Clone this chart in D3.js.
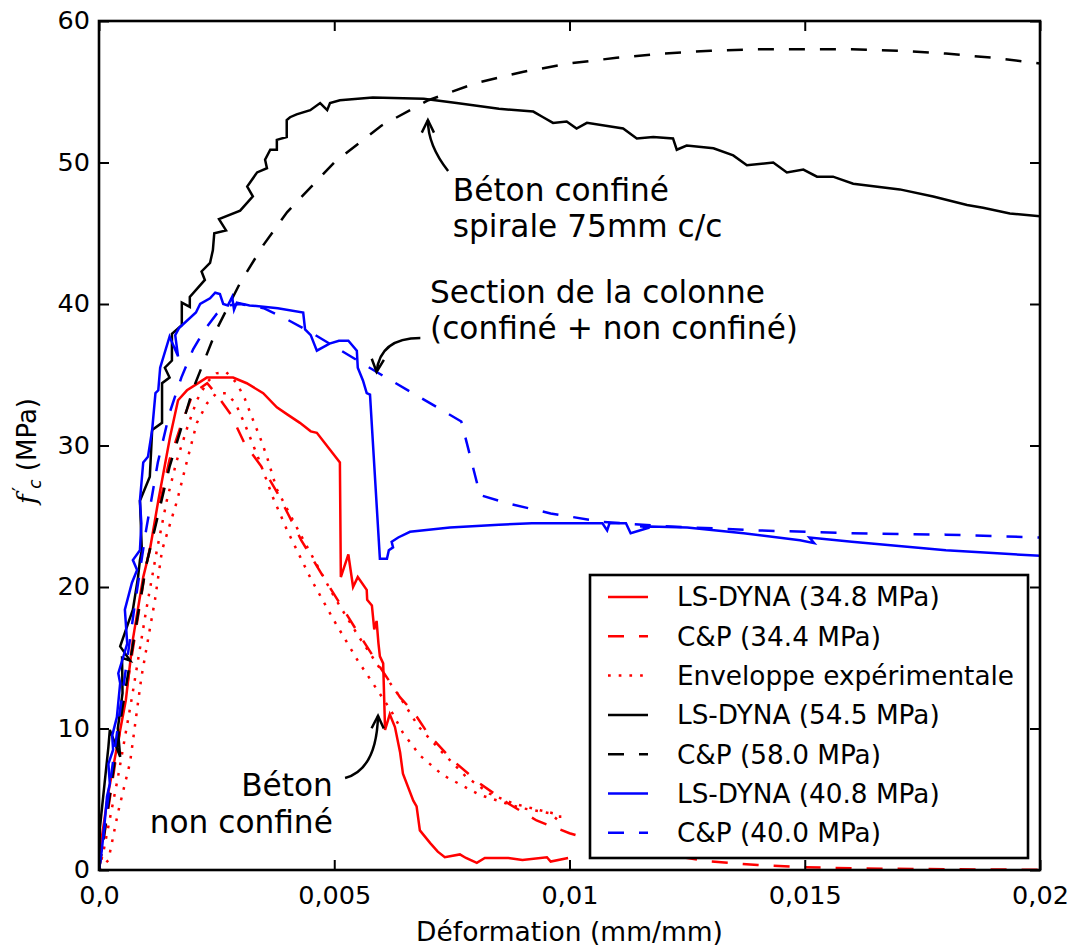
<!DOCTYPE html>
<html><head><meta charset="utf-8">
<script src="https://cdn.jsdelivr.net/npm/d3@7"></script>
<style>body{margin:0;background:#fff}svg{display:block}text{font-family:"DejaVu Sans",sans-serif;fill:#000}</style>
</head><body><svg id="c" width="1076" height="949"></svg>
<script>
// ---- data ----
const xTicks = [0, 0.005, 0.01, 0.015, 0.02];
const xTickLabels = ["0,0", "0,005", "0,01", "0,015", "0,02"];
const yTicks = [0, 10, 20, 30, 40, 50, 60];
const yTickLabels = ["0", "10", "20", "30", "40", "50", "60"];

const redLsDyna = [[0,0],[0.00002,1.4],[0.0002,5.5],[0.00057,12.0],[0.00072,16.3],[0.00094,20.7],[0.00108,22.6],[0.00126,26.1],[0.00151,30.6],[0.00168,33.2],[0.00187,33.9],[0.00215,34.5],[0.00229,34.8],[0.00264,34.8],[0.00285,34.8],[0.00314,34.4],[0.00349,33.7],[0.00378,32.7],[0.004,32.2],[0.00427,31.6],[0.0045,31.0],[0.00463,30.9],[0.00491,29.7],[0.00512,28.8],[0.00514,20.7],[0.0053,22.3],[0.0054,20.0],[0.0055,20.7],[0.00569,19.8],[0.0057,19.1],[0.0058,18.7],[0.00585,17.0],[0.0059,17.6],[0.00594,16.0],[0.00597,15.1],[0.00604,14.6],[0.00608,9.9],[0.00618,11.0],[0.00629,10.1],[0.0064,8.3],[0.00646,6.8],[0.00668,4.9],[0.00675,4.5],[0.00682,2.8],[0.00704,1.9],[0.0072,1.3],[0.00735,0.9],[0.00767,1.1],[0.0078,0.85],[0.00803,0.5],[0.0082,0.85],[0.0087,0.85],[0.009,0.7],[0.00952,0.9],[0.0096,0.6],[0.00997,0.85]];
const redCP = [[0,0],[0.0005,11],[0.001,21.5],[0.0015,29],[0.00175,31.5],[0.002,33.7],[0.0023,34.4],[0.0025,33.6],[0.0028,32.2],[0.0031,30.1],[0.0035,28.3],[0.0038,26.6],[0.0043,23.3],[0.0049,20.0],[0.0055,16.8],[0.006,14.2],[0.0064,12.2],[0.0067,11.1],[0.007,9.6],[0.0075,7.8],[0.0081,6.1],[0.0087,4.7],[0.0093,3.5],[0.01,2.6],[0.0105,2.1],[0.011,1.7],[0.012,1.1],[0.013,0.6],[0.014,0.35],[0.015,0.2],[0.016,0.12],[0.018,0.05],[0.02,0.02]];
const envUpper = [[0,0],[0.0001,1.4],[0.0004,6.5],[0.0007,12.2],[0.001,18.3],[0.00123,22.6],[0.00144,26.1],[0.00165,28.9],[0.00187,31.2],[0.00208,33.2],[0.0023,34.5],[0.0025,35.1],[0.0027,35.2],[0.00293,34.4],[0.0031,33.3],[0.00325,32.0],[0.00342,30.6],[0.00357,29.2],[0.00378,26.9],[0.0043,23.6],[0.005,19.3],[0.0055,16.6],[0.006,14.1],[0.0064,12.2],[0.0068,10.1],[0.0073,8.3],[0.0078,6.6],[0.0083,5.4],[0.0088,4.7],[0.0094,4.2],[0.0098,3.9],[0.0098,3.4]];
const envLower = [[0,0],[0.0002,0.7],[0.0004,4.0],[0.00066,7.6],[0.0009,13.6],[0.00119,19.1],[0.00134,22.6],[0.00166,26.1],[0.00187,28.9],[0.00208,31.6],[0.0023,33.0],[0.0025,33.7],[0.0027,33.7],[0.0029,33.0],[0.0031,31.5],[0.0034,29.0],[0.0037,26.3],[0.004,24.0],[0.0045,20.6],[0.005,17.6],[0.0055,14.8],[0.006,12.3],[0.0062,11.3],[0.00646,9.7],[0.00682,8.1],[0.00731,6.7],[0.0081,5.3],[0.00895,4.4],[0.00959,4.0],[0.0098,3.4]];
const blackLsDyna = [[0,0],[0.00002,3.0],[0.0002,8.7],[0.00023,9.9],[0.00045,8.0],[0.0004,10.0],[0.0005,12.5],[0.00049,15.0],[0.00066,14.8],[0.00045,15.8],[0.00072,18.4],[0.00083,20.7],[0.00087,21.9],[0.00091,22.6],[0.00087,26.1],[0.00108,27.8],[0.00113,31.1],[0.00134,31.6],[0.00134,34.4],[0.0015,34.8],[0.0014,35.5],[0.00155,36.0],[0.00155,37.9],[0.00176,38.5],[0.00176,40.1],[0.00193,39.8],[0.00193,40.5],[0.00225,41.7],[0.00218,42.3],[0.00236,42.9],[0.00242,43.8],[0.00245,45.0],[0.0027,45.2],[0.00255,46.0],[0.003,46.6],[0.00327,47.6],[0.00315,48.3],[0.00336,49.3],[0.00357,49.6],[0.00353,50.2],[0.00364,50.9],[0.00378,50.9],[0.00378,51.6],[0.00399,51.8],[0.00399,53.0],[0.00406,53.2],[0.0042,53.4],[0.00449,53.7],[0.0047,54.2],[0.00485,53.7],[0.00491,54.2],[0.00512,54.4],[0.00582,54.6],[0.0069,54.5],[0.0076,54.2],[0.0085,53.8],[0.00923,53.6],[0.00944,53.2],[0.00965,52.8],[0.00994,52.9],[0.01015,52.4],[0.01037,52.8],[0.01114,52.4],[0.01143,51.7],[0.01178,51.8],[0.0122,51.7],[0.01228,50.9],[0.01249,51.2],[0.01306,51.0],[0.01348,50.5],[0.01377,49.8],[0.01433,50.0],[0.01462,49.3],[0.01497,49.5],[0.01526,49.0],[0.0156,49.0],[0.01603,48.5],[0.01702,48.1],[0.01773,47.6],[0.01845,47.0],[0.01879,46.8],[0.01936,46.4],[0.02,46.2]];
const blackCP = [[0,0],[0.0005,11.5],[0.001,21.5],[0.0015,28.5],[0.002,34],[0.0025,38.2],[0.003,41.5],[0.0035,44.2],[0.004,46.5],[0.005,50],[0.006,52.6],[0.007,54.4],[0.008,55.6],[0.009,56.4],[0.01,57.0],[0.011,57.4],[0.012,57.7],[0.013,57.9],[0.014,58.0],[0.015,58.0],[0.016,58.0],[0.017,57.9],[0.018,57.7],[0.019,57.4],[0.02,57.0]];
const blueLsDyna = [[0,0],[0.00006,1.4],[0.00013,3.7],[0.00017,5.2],[0.00023,6.1],[0.0002,7.5],[0.0003,8.5],[0.00028,9.5],[0.00038,10.8],[0.00045,13.2],[0.00041,13.9],[0.00051,15.0],[0.0006,16.0],[0.00055,18.4],[0.0007,20.3],[0.00081,21.2],[0.00072,21.9],[0.00087,22.6],[0.0009,24.5],[0.00087,26.1],[0.00094,28.8],[0.00104,29.2],[0.00113,31.1],[0.0012,33.7],[0.00126,33.9],[0.0013,35.5],[0.0015,37.7],[0.00168,36.3],[0.00162,37.8],[0.0017,38.3],[0.00206,39.4],[0.00215,40.0],[0.00236,40.4],[0.00247,40.8],[0.00257,40.7],[0.00264,40.0],[0.00274,39.9],[0.00283,40.5],[0.00287,39.6],[0.00293,40.1],[0.0032,39.9],[0.0038,39.7],[0.00434,39.4],[0.00438,38.2],[0.0045,37.8],[0.00463,36.7],[0.0049,37.2],[0.0051,37.4],[0.0053,37.4],[0.00548,36.7],[0.0055,35.5],[0.00561,34.6],[0.00569,33.7],[0.00576,33.6],[0.00597,22.0],[0.00612,22.0],[0.00616,22.6],[0.00625,22.8],[0.00622,23.2],[0.00636,23.5],[0.00661,23.9],[0.00746,24.2],[0.0085,24.4],[0.0092,24.5],[0.0107,24.5],[0.0108,24.0],[0.01085,24.5],[0.0112,24.5],[0.0113,23.8],[0.0117,24.2],[0.0115,24.3],[0.0125,24.2],[0.0137,23.8],[0.0149,23.3],[0.0152,23.1],[0.0151,23.5],[0.016,23.2],[0.017,22.9],[0.018,22.6],[0.019,22.4],[0.02,22.2]];
const blueCP = [[0,0],[0.00025,6.5],[0.0005,12.5],[0.00075,18.5],[0.001,24],[0.00125,28.8],[0.0015,32.3],[0.00175,34.8],[0.002,36.8],[0.00225,38.2],[0.0025,39.3],[0.00275,39.9],[0.003,40.0],[0.0035,39.7],[0.004,38.9],[0.0045,38.0],[0.005,37.0],[0.0055,36.0],[0.006,35.0],[0.0077,31.7],[0.0081,26.5],[0.0087,25.9],[0.0096,25.2],[0.0107,24.6],[0.012,24.3],[0.014,24.0],[0.016,23.8],[0.018,23.7],[0.02,23.5]];

const legendLabels = ["LS-DYNA (34.8 MPa)","C&P (34.4 MPa)","Enveloppe expérimentale","LS-DYNA (54.5 MPa)","C&P (58.0 MPa)","LS-DYNA (40.8 MPa)","C&P (40.0 MPa)"];
const xLabel = "Déformation (mm/mm)";

// ---- layout / styles ----
const W = 1076, H = 949;
const m = {left: 99, right: 1040, top: 21, bottom: 870};
const x = d3.scaleLinear().domain([0, 0.02]).range([m.left, m.right]);
const y = d3.scaleLinear().domain([0, 60]).range([m.bottom, m.top]);
const LW = 2.5;
const DASH = "16,15", DOT = "2.7,8";
const series = [
  {data: redLsDyna, color: "#ff0000", dash: null, leg: 0},
  {data: redCP, color: "#ff0000", dash: DASH, leg: 1},
  {data: envUpper, color: "#ff0000", dash: DOT, leg: 2},
  {data: envLower, color: "#ff0000", dash: DOT, leg: -1},
  {data: blackLsDyna, color: "#000000", dash: null, leg: 3},
  {data: blackCP, color: "#000000", dash: DASH, leg: 4},
  {data: blueLsDyna, color: "#0000ff", dash: null, leg: 5},
  {data: blueCP, color: "#0000ff", dash: DASH, leg: 6}
];

const svg = d3.select("#c");
svg.append("rect").attr("width", W).attr("height", H).attr("fill", "#fff");
svg.append("defs").append("clipPath").attr("id", "clip").append("rect")
  .attr("x", m.left).attr("y", m.top).attr("width", m.right - m.left).attr("height", m.bottom - m.top);

const line = d3.line().x(d => x(d[0])).y(d => y(d[1]));
const plot = svg.append("g").attr("clip-path", "url(#clip)");
series.forEach(s => {
  plot.append("path").attr("d", line(s.data)).attr("fill", "none")
    .attr("stroke", s.color).attr("stroke-width", LW)
    .attr("stroke-dasharray", s.dash).attr("stroke-linejoin", "miter");
});

// axes (inward ticks on all sides)
const TL = 10;
const axB = svg.append("g").attr("transform", `translate(0,${m.bottom})`)
  .call(d3.axisBottom(x).tickValues(xTicks).tickSize(-TL).tickPadding(16).tickFormat((d,i) => xTickLabels[i]));
const axT = svg.append("g").attr("transform", `translate(0,${m.top})`)
  .call(d3.axisTop(x).tickValues(xTicks).tickSize(-TL).tickFormat(""));
const axL = svg.append("g").attr("transform", `translate(${m.left},0)`)
  .call(d3.axisLeft(y).tickValues(yTicks).tickSize(-TL).tickPadding(9).tickFormat((d,i) => yTickLabels[i]));
const axR = svg.append("g").attr("transform", `translate(${m.right},0)`)
  .call(d3.axisRight(y).tickValues(yTicks).tickSize(-TL).tickFormat(""));
[axB, axT, axL, axR].forEach(a => {
  a.select(".domain").remove();
  a.selectAll(".tick line").attr("stroke", "#000").attr("stroke-width", 2);
  a.selectAll("text").style("font-size", "25.5px").style("font-family", "DejaVu Sans").attr("fill", "#000");
});
axB.selectAll(".tick text").attr("dy", "0.71em");
axL.selectAll(".tick text").attr("dy", "0.3em");
svg.append("rect").attr("x", m.left).attr("y", m.top).attr("width", m.right - m.left)
  .attr("height", m.bottom - m.top).attr("fill", "none").attr("stroke", "#000").attr("stroke-width", 2.6);

// axis labels
svg.append("text").attr("x", (m.left + m.right) / 2).attr("y", 941).attr("text-anchor", "middle")
  .style("font-size", "26.5px").text(xLabel);
const yl = svg.append("text").attr("transform", "translate(36,451) rotate(-90)").attr("text-anchor", "middle")
  .style("font-size", "26px");
yl.append("tspan").style("font-style", "italic").style("font-family", "DejaVu Serif").text("f");
yl.append("tspan").attr("dx", 3).attr("dy", -10).style("font-size", "20px").text("′");
yl.append("tspan").attr("dx", -2).attr("dy", 15).style("font-size", "17px").style("font-style", "italic").text("c");
yl.append("tspan").attr("dy", -5).text(" (MPa)");

// annotations (positions in data units)
const annotations = [
  {lines: ["Béton confiné", "spirale 75mm c/c"], at: [0.00752, 47.3], anchor: "start",
   tail: [0.00742, 49.4], ctrl: [0.00699, 51.2], tip: [0.00699, 53.0]},
  {lines: ["Section de la colonne", "(confiné + non confiné)"], at: [0.007035, 40.1], anchor: "start",
   tail: [0.00683, 37.6], ctrl: [0.00597, 37.6], tip: [0.0059, 35.2]},
  {lines: ["Béton", "non confiné"], at: [0.00497, 5.2], anchor: "end",
   tail: [0.00523, 6.5], ctrl: [0.0059, 7.1], tip: [0.00593, 10.9]}
];
annotations.forEach(a => {
  const t = svg.append("text").attr("text-anchor", a.anchor).style("font-size", "31.2px");
  a.lines.forEach((l, i) => t.append("tspan").attr("x", x(a.at[0])).attr("y", y(a.at[1]) + i * 36.5).text(l));
  const p0 = [x(a.tail[0]), y(a.tail[1])], c = [x(a.ctrl[0]), y(a.ctrl[1])], p1 = [x(a.tip[0]), y(a.tip[1])];
  const pth = d3.path(); pth.moveTo(...p0); pth.quadraticCurveTo(c[0], c[1], p1[0], p1[1]);
  svg.append("path").attr("d", pth.toString()).attr("fill", "none").attr("stroke", "#000").attr("stroke-width", LW);
  const ang = Math.atan2(p1[1] - c[1], p1[0] - c[0]), L = 14, sp = 0.45;
  const h = d3.path();
  h.moveTo(p1[0] - L * Math.cos(ang - sp), p1[1] - L * Math.sin(ang - sp));
  h.lineTo(p1[0], p1[1]);
  h.lineTo(p1[0] - L * Math.cos(ang + sp), p1[1] - L * Math.sin(ang + sp));
  svg.append("path").attr("d", h.toString()).attr("fill", "none").attr("stroke", "#000").attr("stroke-width", LW);
});

// legend
const lg = svg.append("g");
lg.append("rect").attr("x", 590).attr("y", 575).attr("width", 438).attr("height", 283)
  .attr("fill", "#fff").attr("stroke", "#000").attr("stroke-width", 2.6);
series.filter(s => s.leg >= 0).forEach(s => {
  const yy = 597 + s.leg * 39.3;
  lg.append("line").attr("x1", 608).attr("x2", 648).attr("y1", yy).attr("y2", yy)
    .attr("stroke", s.color).attr("stroke-width", LW).attr("stroke-dasharray", s.dash);
  lg.append("text").attr("x", 677).attr("y", yy).attr("dy", "0.36em").style("font-size", "26.3px").text(legendLabels[s.leg]);
});
</script></body></html>
